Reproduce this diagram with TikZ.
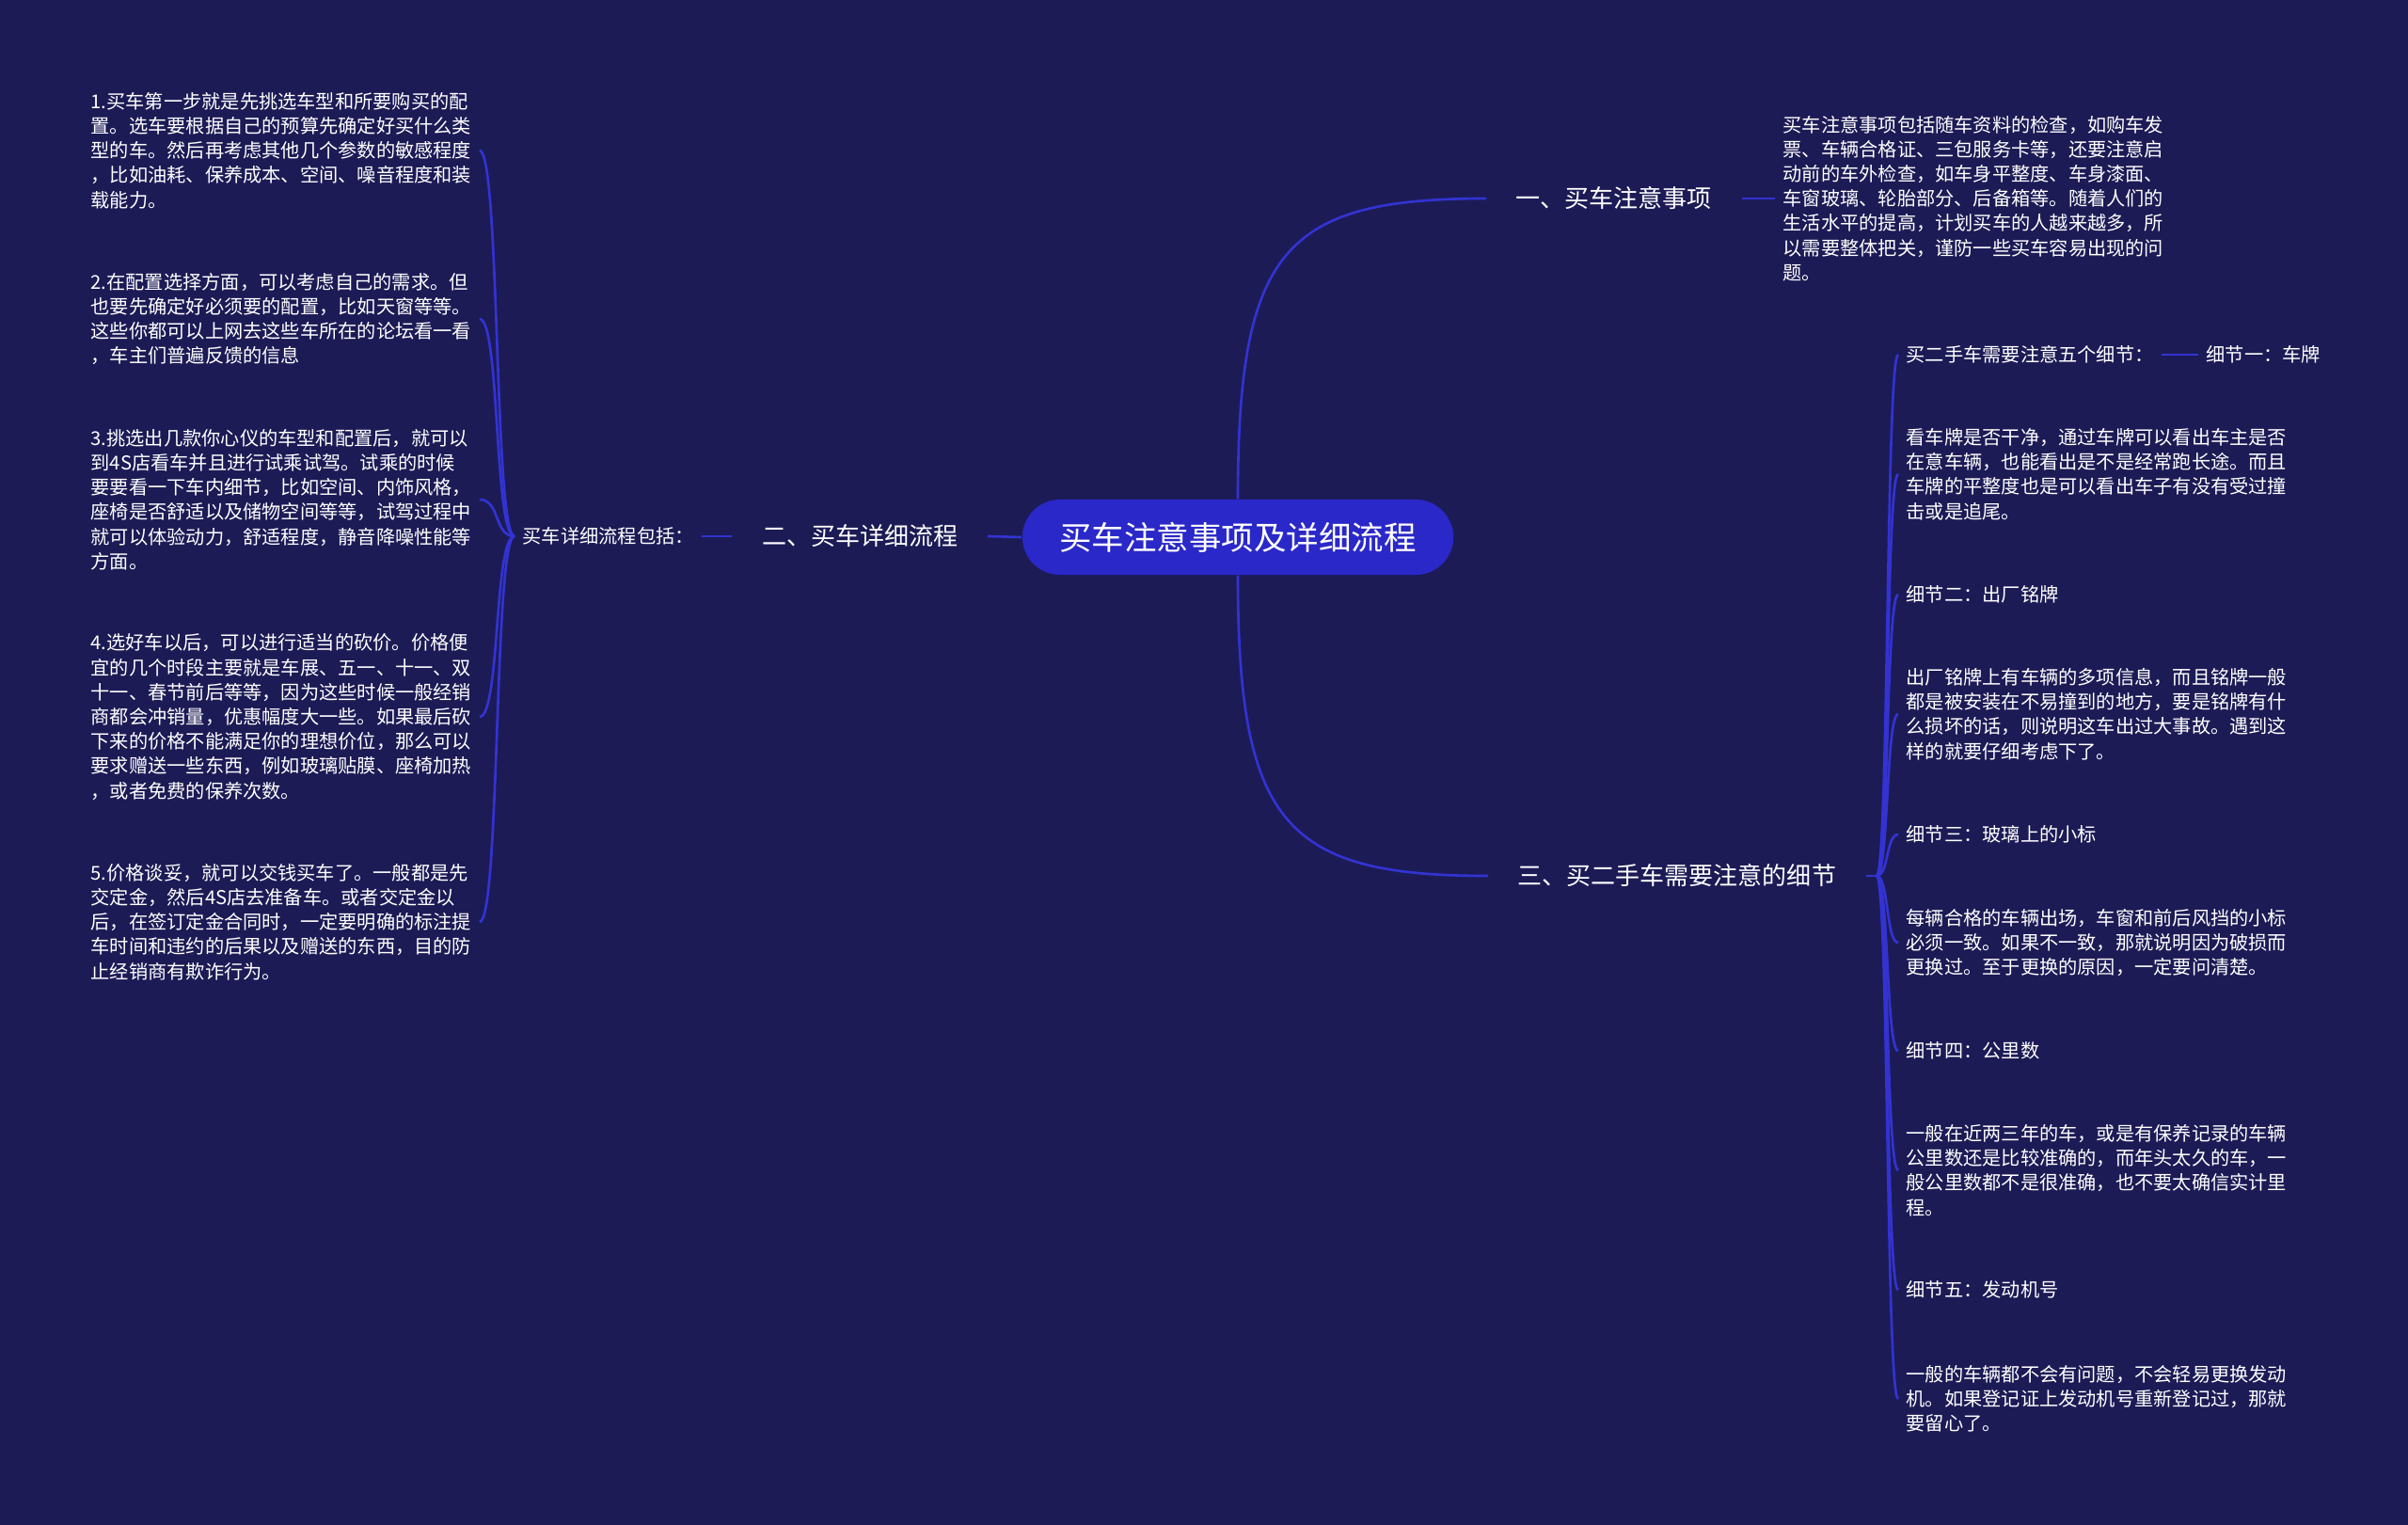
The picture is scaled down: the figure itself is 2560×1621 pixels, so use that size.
\documentclass[tikz,border=0pt]{standalone}
\usepackage{fontspec}
\newfontfamily\cjk{Noto Sans CJK SC}
\definecolor{bgc}{HTML}{1C1B56}
\definecolor{rootc}{HTML}{2A28C8}
\definecolor{linec}{HTML}{3333D2}
\begin{document}
\begin{tikzpicture}[x=0.01cm,y=-0.01cm,
  wire/.style={draw=linec,line width=0.75pt},
  rootbox/.style={fill=rootc,rounded corners=0.4cm,minimum width=4.58cm,minimum height=0.8cm,text=white,font=\cjk\fontsize{9.8pt}{12pt}\selectfont},
  branch/.style={inner xsep=0.31cm,inner ysep=0.05cm,text=white,font=\cjk\fontsize{7.4pt}{9pt}\selectfont},
  leaf/.style={anchor=west,align=left,inner xsep=0.08cm,inner ysep=0.03cm,text=white,font=\cjk\fontsize{5.75pt}{7.45pt}\selectfont}]
\fill[bgc] (0,0) rectangle (2560,1621);
\useasboundingbox (0,0) rectangle (2560,1621);
\node[rootbox] (root) at (1316,571) {买车注意事项及详细流程};
\node[branch,anchor=west] (b1) at (1580,211) {一、买车注意事项};
\node[branch,anchor=east] (b2) at (1050,570) {二、买车详细流程};
\node[branch,anchor=west] (b3) at (1582,931) {三、买二手车需要注意的细节};
\node[leaf] (d1) at (1887,211) {买车注意事项包括随车资料的检查，如购车发\\
票、车辆合格证、三包服务卡等，还要注意启\\
动前的车外检查，如车身平整度、车身漆面、\\
车窗玻璃、轮胎部分、后备箱等。随着人们的\\
生活水平的提高，计划买车的人越来越多，所\\
以需要整体把关，谨防一些买车容易出现的问\\
题。};
\node[leaf] (lst) at (547,570) {买车详细流程包括：};
\node[leaf] (s1) at (88,160) {1.买车第一步就是先挑选车型和所要购买的配\\
置。选车要根据自己的预算先确定好买什么类\\
型的车。然后再考虑其他几个参数的敏感程度\\
，比如油耗、保养成本、空间、噪音程度和装\\
载能力。};
\node[leaf] (s2) at (88,339) {2.在配置选择方面，可以考虑自己的需求。但\\
也要先确定好必须要的配置，比如天窗等等。\\
这些你都可以上网去这些车所在的论坛看一看\\
，车主们普遍反馈的信息};
\node[leaf] (s3) at (88,531) {3.挑选出几款你心仪的车型和配置后，就可以\\
到4S店看车并且进行试乘试驾。试乘的时候\\
要要看一下车内细节，比如空间、内饰风格，\\
座椅是否舒适以及储物空间等等，试驾过程中\\
就可以体验动力，舒适程度，静音降噪性能等\\
方面。};
\node[leaf] (s4) at (88,762) {4.选好车以后，可以进行适当的砍价。价格便\\
宜的几个时段主要就是车展、五一、十一、双\\
十一、春节前后等等，因为这些时候一般经销\\
商都会冲销量，优惠幅度大一些。如果最后砍\\
下来的价格不能满足你的理想价位，那么可以\\
要求赠送一些东西，例如玻璃贴膜、座椅加热\\
，或者免费的保养次数。};
\node[leaf] (s5) at (88,980) {5.价格谈妥，就可以交钱买车了。一般都是先\\
交定金，然后4S店去准备车。或者交定金以\\
后，在签订定金合同时，一定要明确的标注提\\
车时间和违约的后果以及赠送的东西，目的防\\
止经销商有欺诈行为。};
\node[leaf] (r1) at (2018,377) {买二手车需要注意五个细节：};
\node[leaf] (r0) at (2337,377) {细节一：车牌};
\node[leaf] (r2) at (2018,504) {看车牌是否干净，通过车牌可以看出车主是否\\
在意车辆，也能看出是不是经常跑长途。而且\\
车牌的平整度也是可以看出车子有没有受过撞\\
击或是追尾。};
\node[leaf] (r3) at (2018,632) {细节二：出厂铭牌};
\node[leaf] (r4) at (2018,759) {出厂铭牌上有车辆的多项信息，而且铭牌一般\\
都是被安装在不易撞到的地方，要是铭牌有什\\
么损坏的话，则说明这车出过大事故。遇到这\\
样的就要仔细考虑下了。};
\node[leaf] (r5) at (2018,887) {细节三：玻璃上的小标};
\node[leaf] (r6) at (2018,1002) {每辆合格的车辆出场，车窗和前后风挡的小标\\
必须一致。如果不一致，那就说明因为破损而\\
更换过。至于更换的原因，一定要问清楚。};
\node[leaf] (r7) at (2018,1117) {细节四：公里数};
\node[leaf] (r8) at (2018,1244) {一般在近两三年的车，或是有保养记录的车辆\\
公里数还是比较准确的，而年头太久的车，一\\
般公里数都不是很准确，也不要太确信实计里\\
程。};
\node[leaf] (r9) at (2018,1371) {细节五：发动机号};
\node[leaf] (r10) at (2018,1487) {一般的车辆都不会有问题，不会轻易更换发动\\
机。如果登记证上发动机号重新登记过，那就\\
要留心了。};
\coordinate (b3j) at (1995,931);
\draw[wire] (root.north) .. controls +(0,-265) and +(-215,0) .. (b1.west);
\draw[wire] (b1.east) -- (d1.west);
\draw[wire] (root.west) -- (b2.east);
\draw[wire] (b2.west) -- (lst.east);
\draw[wire] (lst.west) .. controls +(-22,0) and +(22,0) .. (s1.east);
\draw[wire] (lst.west) .. controls +(-22,0) and +(22,0) .. (s2.east);
\draw[wire] (lst.west) .. controls +(-22,0) and +(22,0) .. (s3.east);
\draw[wire] (lst.west) .. controls +(-22,0) and +(22,0) .. (s4.east);
\draw[wire] (lst.west) .. controls +(-22,0) and +(22,0) .. (s5.east);
\draw[wire] (root.south) .. controls +(0,265) and +(-215,0) .. (b3.west);
\draw[wire] (b3.east) -- (b3j);
\draw[wire] (b3j) .. controls +(13,0) and +(-13,0) .. (r1.west);
\draw[wire] (b3j) .. controls +(13,0) and +(-13,0) .. (r2.west);
\draw[wire] (b3j) .. controls +(13,0) and +(-13,0) .. (r3.west);
\draw[wire] (b3j) .. controls +(13,0) and +(-13,0) .. (r4.west);
\draw[wire] (b3j) .. controls +(13,0) and +(-13,0) .. (r5.west);
\draw[wire] (b3j) .. controls +(13,0) and +(-13,0) .. (r6.west);
\draw[wire] (b3j) .. controls +(13,0) and +(-13,0) .. (r7.west);
\draw[wire] (b3j) .. controls +(13,0) and +(-13,0) .. (r8.west);
\draw[wire] (b3j) .. controls +(13,0) and +(-13,0) .. (r9.west);
\draw[wire] (b3j) .. controls +(13,0) and +(-13,0) .. (r10.west);
\draw[wire] (r1.east) -- (r0.west);
\end{tikzpicture}
\end{document}
